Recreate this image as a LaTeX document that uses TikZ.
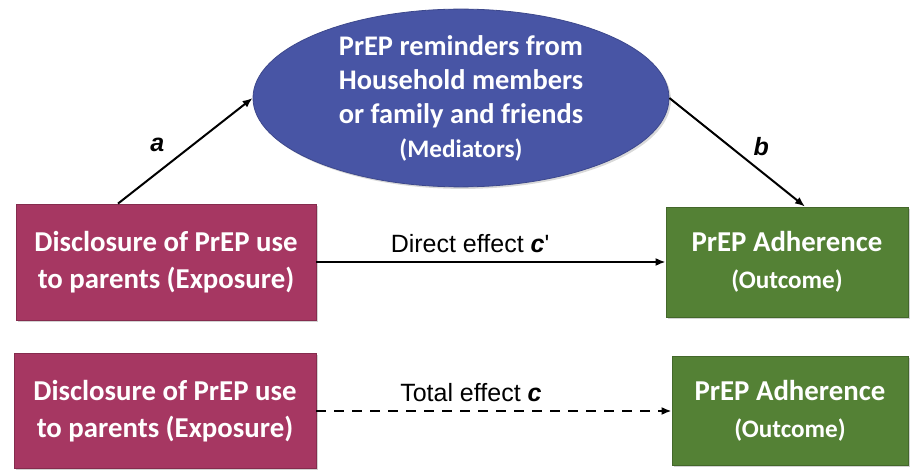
\documentclass[tikz,border=0pt]{standalone}
\usepackage{fontspec}
\setmainfont{Carlito}
\newfontfamily\labelfont{Liberation Sans}
\usepackage{xcolor}
\usepackage{tikz}
\usetikzlibrary{arrows.meta, positioning, shapes.geometric, shadows}

\definecolor{exposurered}{RGB}{166,55,98}
\definecolor{outcomegreen}{RGB}{84,129,53}
\definecolor{mediatorblue}{RGB}{72,85,165}

\newcommand{\rolefont}{\fontsize{12.6}{17}\selectfont}

\begin{document}
\begin{tikzpicture}[
  x=0.5pt, y=-0.5pt,
  >={Latex[length=5pt, width=4pt]},
  expbox/.style={draw=exposurered!80!black, fill=exposurered, minimum width=150pt, minimum height=58pt, align=center, text=white, font=\fontsize{14.4}{18.5}\selectfont\bfseries, drop shadow={shadow xshift=1pt, shadow yshift=-1pt, opacity=0.35}},
  outbox/.style={draw=outcomegreen!80!black, fill=outcomegreen, minimum width=121pt, minimum height=55pt, align=center, text=white, font=\fontsize{14.4}{18.5}\selectfont\bfseries, drop shadow={shadow xshift=1pt, shadow yshift=-1pt, opacity=0.35}},
  medellipse/.style={ellipse, draw=mediatorblue!85!black, fill=mediatorblue, minimum width=208pt, minimum height=84pt, inner sep=0pt, align=center, text=white, font=\fontsize{14.2}{17}\selectfont\bfseries, drop shadow={shadow xshift=1pt, shadow yshift=-1pt, opacity=0.3}},
  pathlabel/.style={font=\labelfont\fontsize{12.5}{15}\selectfont},
  link/.style={->, line width=1pt},
]
\useasboundingbox (0,0) rectangle (912,470);

% Mediator
\node[medellipse] (med) at (461,98) {PrEP reminders from\\Household members\\or family and friends\\{\rolefont(Mediators)}};

% Upper model: indirect and direct paths
\node[expbox] (exp1) at (166,262) {Disclosure of PrEP use\\to parents (Exposure)};
\node[outbox] (out1) at (787,262) {PrEP Adherence\\{\rolefont(Outcome)}};

% Lower model: total effect
\node[expbox, minimum width=151pt, minimum height=57.5pt] (exp2) at (165,411) {Disclosure of PrEP use\\to parents (Exposure)};
\node[outbox, minimum width=118pt, minimum height=54.5pt] (out2) at (790,411) {PrEP Adherence\\{\rolefont(Outcome)}};

% Paths
\draw[link] ([xshift=-24pt]exp1.north) -- (med.west) node[pathlabel, midway, xshift=-14pt, yshift=3pt] {\textbf{\textit{a}}};
\draw[link] (med.east) -- ([xshift=9pt]out1.north) node[pathlabel, midway, xshift=12pt, yshift=3pt] {\textbf{\textit{b}}};
\draw[link] (exp1.east) -- (out1.west) node[pathlabel, pos=0.44, above=1pt] {Direct effect \textbf{\textit{c}}'};
\draw[link, dashed, dash pattern=on 5pt off 4pt] (exp2.east) -- (out2.west) node[pathlabel, pos=0.435, above=1pt] {Total effect \textbf{\textit{c}}};

\end{tikzpicture}
\end{document}
